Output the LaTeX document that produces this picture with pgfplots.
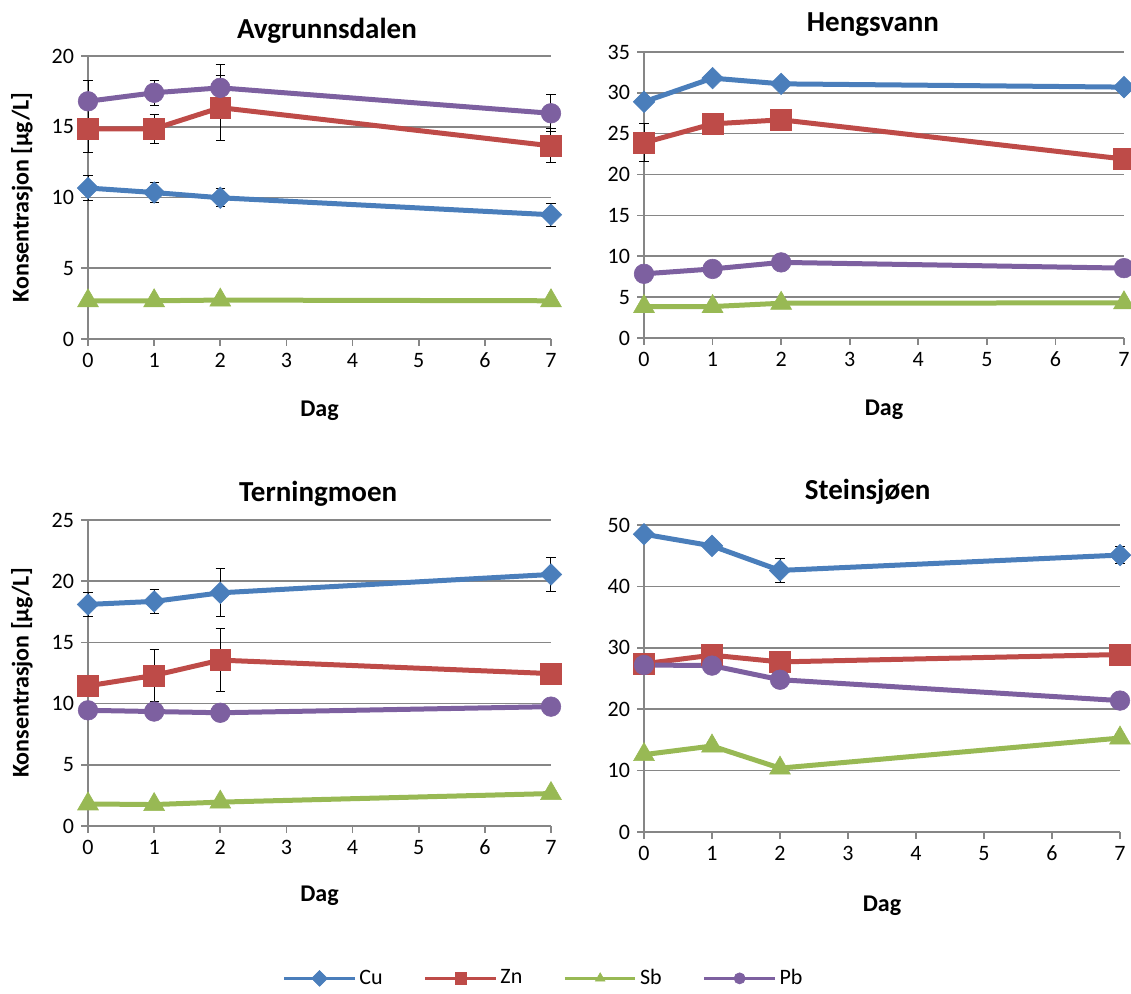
\documentclass[border=0pt]{standalone}
\usepackage{pgfplots}
\pgfplotsset{compat=1.18}
\usepackage{fontspec}
\setmainfont{Carlito}
\definecolor{cuC}{HTML}{4A7EBB}
\definecolor{znC}{HTML}{BE4B48}
\definecolor{sbC}{HTML}{98B954}
\definecolor{pbC}{HTML}{7D60A0}
\definecolor{axC}{HTML}{868686}
\pgfplotsset{
 panel/.style={
  scale only axis, clip=false,
  xmin=0,xmax=7, xtick={0,...,7}, ymin=0,
  axis x line=bottom, axis y line=left,
  axis line style={-, axC, line width=0.8pt},
  ymajorgrids, major grid style={axC, line width=0.8pt},
  tick style={axC, line width=0.8pt},
  tick align=outside, major tick length=3.5pt,
  /pgf/number format/assume math mode=true,
  ticklabel style={font=\fontsize{11}{13}\selectfont, black},
  xlabel style={font=\bfseries\fontsize{12}{14}\selectfont},
  ylabel style={font=\bfseries\fontsize{12}{14}\selectfont},
  title style={font=\bfseries\fontsize{14.5}{17}\selectfont},
  error bars/y dir=both, error bars/y explicit,
  error bars/error bar style={black, line width=0.5pt, solid},
  error bars/error mark options={black, mark size=2.3pt, line width=0.5pt, rotate=90},
  legend image code/.code={\draw[mark repeat=2, mark phase=2, #1, line width=1.6pt, mark size=2.8pt] plot coordinates {(0cm,0cm) (0.62cm,0cm) (1.24cm,0cm)};},
 },
 cu/.style={color=cuC, line width=2.5pt, mark=square*, mark size=3.8pt, mark options={rotate=45, solid, fill=cuC, draw=cuC, line width=0.3pt}},
 zn/.style={color=znC, line width=2.5pt, mark=square*, mark size=5.2pt, mark options={solid, fill=znC, draw=znC, line width=0.3pt}},
 sb/.style={color=sbC, line width=2.5pt, mark=triangle*, mark size=6pt, mark options={solid, fill=sbC, draw=sbC, line width=0.3pt}},
 pb/.style={color=pbC, line width=2.5pt, mark=*, mark size=4.9pt, mark options={solid, fill=pbC, draw=pbC, line width=0.3pt}},
}
\begin{document}
\begin{tikzpicture}
% Panel 1
\begin{axis}[panel, at={(44pt,327.5pt)}, anchor=south west, width=231.5pt, height=141.5pt,
  ymax=20, ytick={0,5,...,20},
  title={Avgrunnsdalen}, title style={at={(axis description cs:0.516,1.046)}, anchor=center},
  xlabel={Dag}, xlabel style={at={(axis description cs:0.5,-0.255)}, anchor=center},
  ylabel={Konsentrasjon [µg/L]}, ylabel style={at={(axis description cs:-0.143,0.5)}, anchor=center}]
\addplot[cu] table[x=x,y=y,y error=e] {
x y e
0 10.67 0.85
1 10.35 0.7
2 9.98 0.65
7 8.78 0.8
};
\addplot[zn] table[x=x,y=y,y error=e] {
x y e
0 14.85 1.65
1 14.85 1.05
2 16.35 2.3
7 13.65 1.2
};
\addplot[sb] table[x=x,y=y,y error=e] {
x y e
0 2.7 0.15
1 2.7 0.15
2 2.75 0.15
7 2.7 0.15
};
\addplot[pb] table[x=x,y=y,y error=e] {
x y e
0 16.8 1.5
1 17.4 0.9
2 17.75 1.65
7 15.95 1.3
};
\end{axis}
% Panel 2
\begin{axis}[panel, at={(322pt,328pt)}, anchor=south west, width=240pt, height=143pt,
  ymax=35, ytick={0,5,...,35},
  title={Hengsvann}, title style={at={(axis description cs:0.477,1.053)}, anchor=center},
  xlabel={Dag}, xlabel style={at={(axis description cs:0.5,-0.25)}, anchor=center}]
\addplot[cu] table[x=x,y=y,y error=e] {
x y e
0 28.9 0.5
1 31.8 0.5
2 31.1 0.4
7 30.7 0.5
};
\addplot[zn] table[x=x,y=y,y error=e] {
x y e
0 23.9 2.3
1 26.2 1.1
2 26.7 0.5
7 21.9 0.5
};
\addplot[sb] table[x=x,y=y,y error=e] {
x y e
0 3.85 0.3
1 3.85 0.3
2 4.25 0.3
7 4.3 0.3
};
\addplot[pb] table[x=x,y=y,y error=e] {
x y e
0 7.85 0.3
1 8.45 0.4
2 9.25 0.4
7 8.55 0.4
};
\end{axis}
% Panel 3
\begin{axis}[panel, at={(44pt,84pt)}, anchor=south west, width=231.5pt, height=153pt,
  ymax=25, ytick={0,5,...,25},
  title={Terningmoen}, title style={at={(axis description cs:0.497,1.046)}, anchor=center},
  xlabel={Dag}, xlabel style={at={(axis description cs:0.5,-0.229)}, anchor=center},
  ylabel={Konsentrasjon [µg/L]}, ylabel style={at={(axis description cs:-0.143,0.5)}, anchor=center},
  legend columns=4,
  legend style={draw=none, fill=none, at={(0.985,-0.498)}, anchor=center,
    font=\fontsize{11}{13}\selectfont, nodes={inner sep=1.5pt},
    /tikz/every even column/.append style={column sep=19pt}},
  ]
\addplot[cu] table[x=x,y=y,y error=e] {
x y e
0 18.1 0.95
1 18.35 0.95
2 19.05 1.97
7 20.55 1.4
};
\addplot[zn] table[x=x,y=y,y error=e] {
x y e
0 11.45 0.5
1 12.3 2.1
2 13.55 2.55
7 12.45 0.5
};
\addplot[sb] table[x=x,y=y,y error=e] {
x y e
0 1.8 0.2
1 1.75 0.2
2 1.95 0.2
7 2.65 0.2
};
\addplot[pb] table[x=x,y=y,y error=e] {
x y e
0 9.45 0.3
1 9.35 0.3
2 9.25 0.3
7 9.75 0.3
};
\legend{Cu,Zn,Sb,Pb}
\end{axis}
% Panel 4
\begin{axis}[panel, at={(322pt,81pt)}, anchor=south west, width=238pt, height=153.5pt,
  ymax=50, ytick={0,10,...,50},
  title={Steinsjøen}, title style={at={(axis description cs:0.47,1.068)}, anchor=center},
  xlabel={Dag}, xlabel style={at={(axis description cs:0.5,-0.241)}, anchor=center}]
\addplot[cu] table[x=x,y=y,y error=e] {
x y e
0 48.5 0.8
1 46.6 0.8
2 42.6 2.0
7 45.1 1.4
};
\addplot[zn] table[x=x,y=y,y error=e] {
x y e
0 27.4 0.8
1 28.8 0.6
2 27.7 1.7
7 28.9 0.5
};
\addplot[sb] table[x=x,y=y,y error=e] {
x y e
0 12.6 0.5
1 14.0 0.5
2 10.4 0.5
7 15.3 0.5
};
\addplot[pb] table[x=x,y=y,y error=e] {
x y e
0 27.2 0.5
1 27.1 0.5
2 24.8 0.5
7 21.4 1.2
};
\end{axis}
\pgfresetboundingbox
\path[use as bounding box] (0pt,0pt) rectangle (565.5pt,497pt);
\end{tikzpicture}
\end{document}
